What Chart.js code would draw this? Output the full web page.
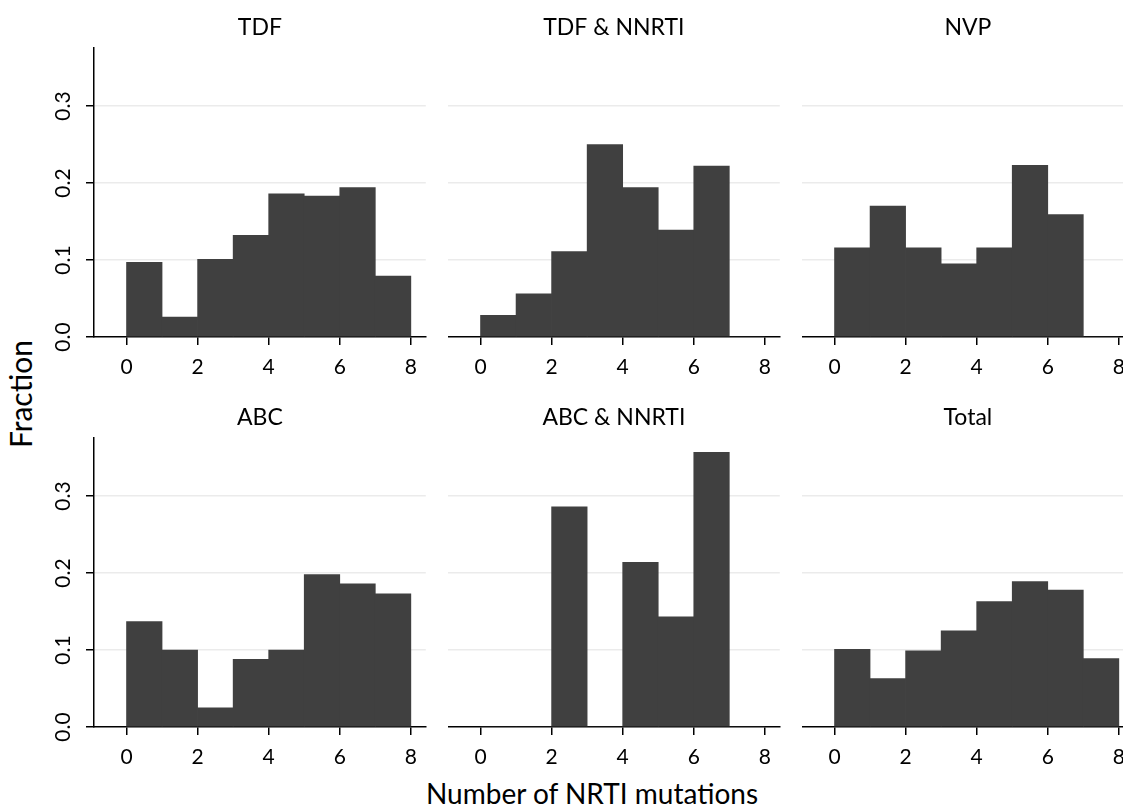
<!DOCTYPE html>
<html><head><meta charset="utf-8">
<script src="https://cdn.jsdelivr.net/npm/chart.js@4/dist/chart.umd.min.js"></script>
<style>
html,body{margin:0;padding:0;background:#fff;width:1123px;height:805px;overflow:hidden;position:relative;}
canvas{position:absolute;}
.lbl{position:absolute;font-family:Lato;color:#000;white-space:nowrap;line-height:1;}
#ytitle{left:20px;top:394px;font-size:30px;transform:translate(-50%,-50%) rotate(-90deg);}
#xtitle{left:592px;top:793px;font-size:28px;transform:translate(-50%,-50%);}
</style></head><body>
<div id="ytitle" class="lbl">Fraction</div>
<div id="xtitle" class="lbl">Number of NRTI mutations</div>
<script>
// ---- data ----
const binStarts = [0, 1, 2, 3, 4, 5, 6, 7];
const xTicks = [0, 2, 4, 6, 8];
const yTicks = [0, 0.1, 0.2, 0.3];
const panelTitles = ['TDF', 'TDF & NNRTI', 'NVP', 'ABC', 'ABC & NNRTI', 'Total'];
const tdf      = [0.097, 0.026, 0.101, 0.132, 0.186, 0.183, 0.194, 0.079];
const tdfNnrti = [0.028, 0.056, 0.111, 0.250, 0.194, 0.139, 0.222, 0];
const nvp      = [0.116, 0.170, 0.116, 0.095, 0.116, 0.223, 0.159, 0];
const abc      = [0.137, 0.100, 0.025, 0.088, 0.100, 0.198, 0.186, 0.173];
const abcNnrti = [0, 0, 0.286, 0, 0.214, 0.143, 0.357, 0];
const total    = [0.101, 0.063, 0.099, 0.125, 0.163, 0.189, 0.178, 0.089];
const panelData = [tdf, tdfNnrti, nvp, abc, abcNnrti, total];

// ---- layout ----
const colLeft = [0, 448, 802];
const colWidth = [427, 333, 333];
const yAxisWidth = [94, 0, 0];
const rowTop = [0, 390];
const canvasH = 382;

Chart.defaults.font.family = 'Lato';
Chart.defaults.color = '#000';

panelTitles.forEach((title, i) => {
  const row = Math.floor(i / 3), col = i % 3;
  const cv = document.createElement('canvas');
  cv.width = colWidth[col]; cv.height = canvasH;
  cv.style.left = colLeft[col] + 'px'; cv.style.top = rowTop[row] + 'px';
  cv.style.width = colWidth[col] + 'px'; cv.style.height = canvasH + 'px';
  document.body.appendChild(cv);
  const firstCol = col === 0;
  const values = panelData[i];
  new Chart(cv, {
    type: 'bar',
    data: {
      datasets: [{
        data: binStarts.map((b, k) => ({ x: b + 0.5, y: values[k] })),
        backgroundColor: '#404040',
        borderWidth: 0,
        barPercentage: 1,
        categoryPercentage: 1
      }]
    },
    options: {
      responsive: false,
      animation: false,
      devicePixelRatio: 1,
      layout: { padding: 0 },
      plugins: {
        legend: { display: false },
        tooltip: { enabled: false },
        title: {
          display: true, text: title, fullSize: false,
          font: { size: 23, weight: 'normal' }, color: '#000',
          padding: { top: 14, bottom: 6 }
        }
      },
      scales: {
        x: {
          type: 'linear', min: -0.915, max: 8.42, offset: false, z: 1,
          afterBuildTicks: s => { s.ticks = xTicks.map(v => ({ value: v })); },
          afterFit: s => { s.height = 45; },
          grid: { display: true, offset: false, drawOnChartArea: false, drawTicks: true,
                  tickLength: 8, color: '#000', tickColor: '#000', lineWidth: 1.5 },
          border: { display: true, color: '#000', width: 1.5 },
          ticks: { font: { size: 21 }, color: '#000', padding: 10, maxRotation: 0, minRotation: 0 }
        },
        y: {
          type: 'linear', min: 0, max: 0.376,
          afterBuildTicks: s => { s.ticks = yTicks.map(v => ({ value: v })); },
          afterFit: s => { s.width = yAxisWidth[col]; },
          grid: {
            color: c => (c.tick && c.tick.value === 0) ? 'rgba(0,0,0,0)' : '#ebebeb',
            lineWidth: 1.5,
            drawTicks: firstCol, tickLength: 8, tickColor: '#000', tickWidth: 1.5
          },
          border: { display: firstCol, color: '#000', width: 1.5 },
          ticks: {
            display: firstCol, font: { size: 21 }, color: '#000', padding: 8,
            minRotation: 90, maxRotation: 90, crossAlign: 'center',
            callback: v => v.toFixed(1)
          }
        }
      }
    }
  });
});
</script>
</body></html>
